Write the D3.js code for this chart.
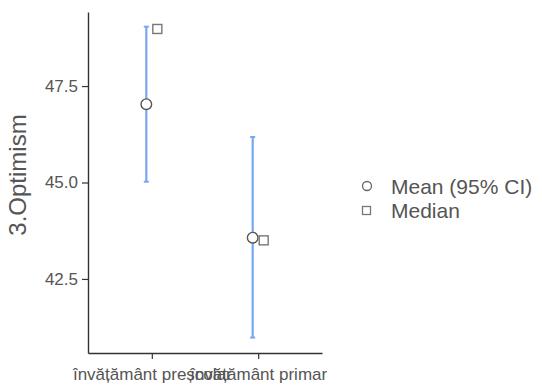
<!DOCTYPE html>
<html>
<head>
<meta charset="utf-8">
<script src="https://cdn.jsdelivr.net/npm/d3@7"></script>
<style>
body { margin: 0; background: #fff; }
svg text { font-family: "Liberation Sans", Arial, sans-serif; }
</style>
</head>
<body>
<div id="chart"></div>
<script>
var width = 542,
    height = 385;

// data
var groups = ["învățământ preșcolar", "învățământ primar"];
var means = [47.03, 43.57];
var ciLow = [45.02, 40.98];
var ciHigh = [49.04, 46.18];
var medians = [48.98, 43.50];
var yTicks = [42.5, 45.0, 47.5];

var x = d3.scalePoint()
    .domain(groups)
    .range([88, 322])
    .padding(0.6);

var y = d3.scaleLinear()
    .domain([40.58, 49.42])
    .range([353, 12]);

var svg = d3.select("#chart").append("svg")
    .attr("width", width)
    .attr("height", height);

// y axis
var yAxis = svg.append("g")
    .attr("transform", "translate(88,0)")
    .call(d3.axisLeft(y).tickValues(yTicks).tickFormat(d3.format(".1f")).tickSize(6).tickSizeOuter(0));
yAxis.select(".domain").attr("stroke", "#333").attr("stroke-width", 1.4);
yAxis.selectAll(".tick line").attr("stroke", "#333").attr("stroke-width", 1.2);
yAxis.selectAll(".tick text")
    .attr("fill", "#555")
    .attr("font-size", 17)
    .attr("font-family", "Liberation Sans, Arial, sans-serif")
    .attr("x", -10);

// x axis
var xAxis = svg.append("g")
    .attr("transform", "translate(0,353)")
    .call(d3.axisBottom(x).tickSize(6).tickSizeOuter(0));
xAxis.select(".domain").attr("stroke", "#333").attr("stroke-width", 1.4);
xAxis.selectAll(".tick line").attr("stroke", "#333").attr("stroke-width", 1.2);
xAxis.selectAll(".tick text")
    .attr("fill", "#555")
    .attr("font-size", 17)
    .attr("font-family", "Liberation Sans, Arial, sans-serif")
    .attr("y", 15);

// y title
svg.append("text")
    .attr("transform", "translate(26,175) rotate(-90)")
    .attr("text-anchor", "middle")
    .attr("fill", "#555")
    .attr("font-size", 24)
    .text("3.Optimism");

var off = 5.5;
var barCol = "#79a6f0";

// error bars
var eb = svg.append("g").selectAll("g")
    .data(groups)
    .enter().append("g");

eb.append("line")
    .attr("x1", function(d) { return x(d) - off; })
    .attr("x2", function(d) { return x(d) - off; })
    .attr("y1", function(d, i) { return y(ciLow[i]); })
    .attr("y2", function(d, i) { return y(ciHigh[i]); })
    .attr("stroke", barCol)
    .attr("stroke-width", 2.2);

[ciLow, ciHigh].forEach(function(arr) {
  eb.append("line")
      .attr("x1", function(d) { return x(d) - off - 2.5; })
      .attr("x2", function(d) { return x(d) - off + 2.5; })
      .attr("y1", function(d, i) { return y(arr[i]); })
      .attr("y2", function(d, i) { return y(arr[i]); })
      .attr("stroke", barCol)
      .attr("stroke-width", 2);
});

// means
eb.append("circle")
    .attr("cx", function(d) { return x(d) - off; })
    .attr("cy", function(d, i) { return y(means[i]); })
    .attr("r", 5.3)
    .attr("fill", "#fff")
    .attr("stroke", "#555")
    .attr("stroke-width", 1.4);

// medians
eb.append("rect")
    .attr("x", function(d) { return x(d) + off - 4.5; })
    .attr("y", function(d, i) { return y(medians[i]) - 4.5; })
    .attr("width", 9)
    .attr("height", 9)
    .attr("fill", "#fff")
    .attr("stroke", "#777")
    .attr("stroke-width", 1.4);

// legend
var lg = svg.append("g");
lg.append("circle")
    .attr("cx", 367).attr("cy", 186).attr("r", 4.5)
    .attr("fill", "#fff").attr("stroke", "#666").attr("stroke-width", 1.3);
lg.append("text")
    .attr("x", 391).attr("y", 194)
    .attr("fill", "#555").attr("font-size", 21)
    .text("Mean (95% CI)");
lg.append("rect")
    .attr("x", 362.5).attr("y", 206.5).attr("width", 8).attr("height", 8)
    .attr("fill", "#fff").attr("stroke", "#777").attr("stroke-width", 1.3);
lg.append("text")
    .attr("x", 391).attr("y", 218)
    .attr("fill", "#555").attr("font-size", 21)
    .text("Median");
</script>
</body>
</html>
